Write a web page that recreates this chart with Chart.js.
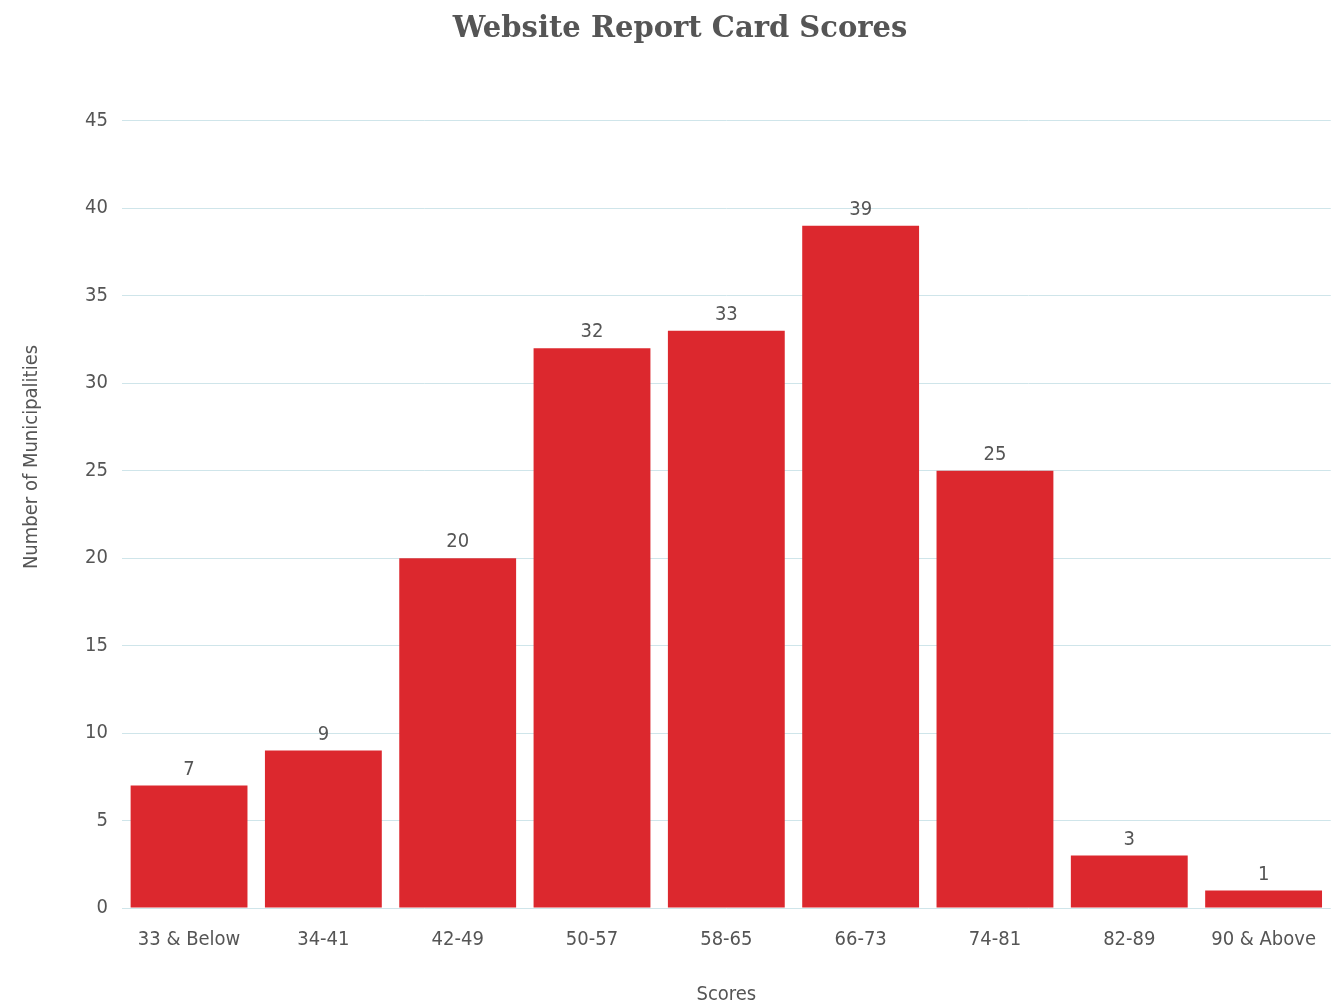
<!DOCTYPE html>
<html>
<head>
<meta charset="utf-8">
<script src="https://cdn.jsdelivr.net/npm/chart.js@4"></script>
<style>
  html, body { margin: 0; padding: 0; background: #fff; }
  #wrap { width: 1336px; height: 1007px; }
</style>
</head>
<body>
<div id="wrap"><canvas id="scoreChart"></canvas></div>
<script>
// Data
const categories = ['33 & Below', '34-41', '42-49', '50-57', '58-65', '66-73', '74-81', '82-89', '90 & Above'];
const counts = [7, 9, 20, 32, 33, 39, 25, 3, 1];
const yTicks = [0, 5, 10, 15, 20, 25, 30, 35, 40, 45];

const narrow = "'Liberation Sans Narrow', 'DejaVu Sans Condensed', sans-serif";
const textColor = '#555555';

// value labels on top of each bar, plus the y axis title (sits above the plot centre in the original)
const barLabels = {
  id: 'barLabels',
  afterDatasetsDraw(chart) {
    const ctx = chart.ctx;
    const meta = chart.getDatasetMeta(0);
    ctx.save();
    ctx.font = '20px ' + narrow;
    ctx.fillStyle = textColor;
    ctx.textAlign = 'center';
    ctx.textBaseline = 'bottom';
    meta.data.forEach((bar, i) => {
      ctx.fillText(counts[i], bar.x, bar.y - 6);
    });
    ctx.translate(32, 457);
    ctx.rotate(-Math.PI / 2);
    ctx.textBaseline = 'middle';
    ctx.fillText('Number of Municipalities', 0, 0);
    ctx.restore();
  }
};

const ctx = document.getElementById('scoreChart').getContext('2d');
new Chart(ctx, {
  type: 'bar',
  data: {
    labels: categories,
    datasets: [{
      label: 'Municipalities',
      data: counts,
      backgroundColor: '#dc282e',
      borderWidth: 0,
      categoryPercentage: 1,
      barPercentage: 0.87
    }]
  },
  options: {
    responsive: true,
    maintainAspectRatio: false,
    animation: false,
    layout: { padding: { left: 20, right: -4, top: 8, bottom: 0 } },
    plugins: {
      legend: { display: false },
      tooltip: { enabled: false },
      title: {
        display: true,
        text: 'Website Report Card Scores',
        color: textColor,
        font: { family: "'DejaVu Serif', serif", size: 29, weight: 'bold' },
        padding: { top: 4, bottom: 74 }
      }
    },
    scales: {
      x: {
        grid: { display: false, drawTicks: false },
        border: { display: false },
        ticks: { color: textColor, font: { family: narrow, size: 20 }, padding: 20 },
        title: {
          display: true,
          text: 'Scores',
          color: textColor,
          font: { family: narrow, size: 20 },
          padding: { top: 11, bottom: 0 }
        }
      },
      y: {
        min: 0,
        max: 45,
        afterBuildTicks(axis) {
          axis.ticks = yTicks.map(v => ({ value: v }));
        },
        grid: { color: '#cfe5ea', drawTicks: false, lineWidth: 1 },
        border: { display: false },
        ticks: { color: textColor, font: { family: narrow, size: 20 }, padding: 14 },
        // space kept for the title, which the plugin above draws
        title: {
          display: true,
          text: 'Number of Municipalities',
          color: 'rgba(0,0,0,0)',
          font: { family: narrow, size: 20 },
          padding: { top: 0, bottom: 27 }
        }
      }
    }
  },
  plugins: [barLabels]
});
</script>
</body>
</html>
